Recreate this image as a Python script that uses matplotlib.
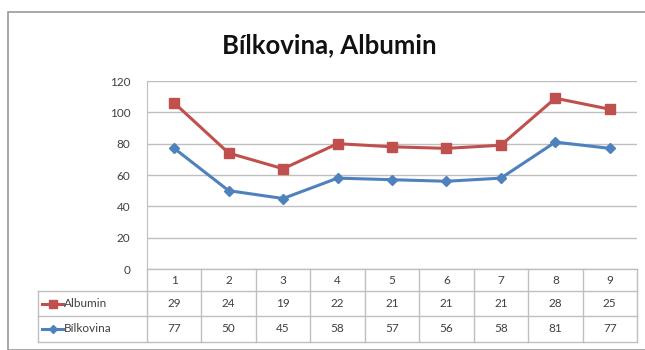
import matplotlib.pyplot as plt
from matplotlib.transforms import blended_transform_factory
from matplotlib.patches import Rectangle
from matplotlib.lines import Line2D

plt.rcParams['font.family'] = ['Lato', 'DejaVu Sans']

# data (stacked line chart: Albumin drawn on top of Bilkovina)
kategorie = ['1', '2', '3', '4', '5', '6', '7', '8', '9']
albumin = [29, 24, 19, 22, 21, 21, 21, 28, 25]
bilkovina = [77, 50, 45, 58, 57, 56, 58, 81, 77]
y_ticks = [0, 20, 40, 60, 80, 100, 120]

red = '#C0504D'
blue = '#4F81BD'
grid_c = '#BFBFBF'
txt_c = '#404040'

fig = plt.figure(figsize=(6.45, 3.5), dpi=100)
fig.patch.set_facecolor('white')

# outer chart frame
fig.patches.append(Rectangle((8 / 645, 0.0), 1.2, 1 - 12 / 350, transform=fig.transFigure,
                             fill=False, edgecolor='#9A9A9A', linewidth=1.2))

ax = fig.add_axes([147 / 645, 1 - 269 / 350, 490 / 645, 188 / 350])
x = list(range(1, len(kategorie) + 1))
stacked = [a + b for a, b in zip(albumin, bilkovina)]

ax.plot(x, stacked, color=red, lw=2.2, marker='s', ms=7, zorder=3, clip_on=False)
ax.plot(x, bilkovina, color=blue, lw=2.2, marker='D', ms=5.5, zorder=3, clip_on=False)

ax.set_xlim(0.5, len(kategorie) + 0.5)
ax.set_ylim(0, 120)
ax.set_yticks(y_ticks)
ax.set_yticklabels([str(t) for t in y_ticks], fontsize=8.5, color=txt_c)
ax.tick_params(axis='y', length=0, pad=12)
ax.set_xticks([])
ax.grid(axis='y', color=grid_c, lw=1)
ax.set_axisbelow(True)
for s in ['top', 'right', 'bottom']:
    ax.spines[s].set_visible(False)
ax.spines['left'].set_color(grid_c)

fig.text(329 / 645, 1 - 45 / 350, 'Bílkovina, Albumin', ha='center', va='center',
         fontsize=18.5, fontweight='bold', color='#111111')

# data table under the plot
tr = blended_transform_factory(ax.transData, ax.transAxes)
rows = [0, -22 / 188, -47 / 188, -73 / 188]
left = -1.5
right = len(kategorie) + 0.5
lk = dict(color=grid_c, lw=1, transform=tr, clip_on=False)
ax.add_line(Line2D([0.5, right], [rows[0], rows[0]], **lk))
for r in rows[1:]:
    ax.add_line(Line2D([left, right], [r, r], **lk))
ax.add_line(Line2D([left, left], [rows[1], rows[3]], **lk))
ax.add_line(Line2D([0.5, 0.5], [rows[0], rows[3]], **lk))
for i in range(len(kategorie)):
    xb = i + 1.5
    ax.add_line(Line2D([xb, xb], [rows[0], rows[3]], **lk))

fs = 8.5
for i, k in enumerate(kategorie):
    mid = (rows[0] + rows[1]) / 2
    ax.text(i + 1, mid, k, transform=tr, ha='center', va='center', fontsize=fs, color=txt_c)
    mid = (rows[1] + rows[2]) / 2
    ax.text(i + 1, mid, str(albumin[i]), transform=tr, ha='center', va='center', fontsize=fs, color=txt_c)
    mid = (rows[2] + rows[3]) / 2
    ax.text(i + 1, mid, str(bilkovina[i]), transform=tr, ha='center', va='center', fontsize=fs, color=txt_c)

# legend keys inside the table
for (r0, r1), name, col, mk, ms in [((rows[1], rows[2]), 'Albumin', red, 's', 6),
                                     ((rows[2], rows[3]), 'Bílkovina', blue, 'D', 4.5)]:
    mid = (r0 + r1) / 2
    ax.add_line(Line2D([left + 0.08, left + 0.45], [mid, mid], color=col, lw=2.2,
                       transform=tr, clip_on=False))
    ax.add_line(Line2D([left + 0.265], [mid], color=col, marker=mk, ms=ms,
                       transform=tr, clip_on=False))
    ax.text(left + 0.47, mid, name, transform=tr, ha='left', va='center', fontsize=fs, color=txt_c)

fig.savefig('out.png', dpi=100, facecolor='white')
